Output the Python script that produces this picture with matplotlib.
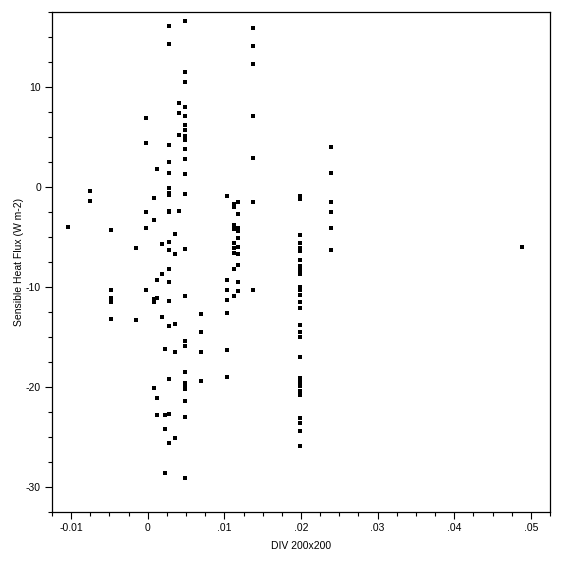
import matplotlib
matplotlib.use("Agg")
import matplotlib.pyplot as plt
from matplotlib.ticker import MultipleLocator

# DIV 200x200 columns and the sensible heat flux values
div_cols = [-0.0104, -0.0076, -0.0048, -0.0016, -0.0002, 0.0008, 0.0012, 0.0018,
            0.0023, 0.0028, 0.0036, 0.0041, 0.0049, 0.0069, 0.0104, 0.0112,
            0.0118, 0.0137, 0.0199, 0.0239, 0.0488]
flux_cols = [
    [-4.0],
    [-0.4, -1.4],
    [-4.3, -10.3, -11.1, -11.5, -13.2],
    [-6.1, -13.3],
    [6.9, 4.4, -2.5, -4.1, -10.3],
    [-1.1, -3.3, -11.2, -11.5, -20.1],
    [1.8, -9.3, -11.1, -21.1, -22.8],
    [-5.7, -8.7, -13.0],
    [-16.2, -22.8, -24.2, -28.6],
    [16.1, 14.3, 4.2, 2.5, 1.4, -0.1, -0.6, -0.8, -2.4, -2.5, -5.5, -6.3,
     -8.2, -9.5, -11.4, -13.9, -19.2, -22.7, -25.6],
    [-4.7, -6.7, -13.7, -16.5, -25.1],
    [8.4, 7.4, 5.2, -2.4],
    [16.6, 11.5, 10.5, 8.0, 7.1, 6.2, 5.7, 5.1, 4.7, 3.8, 2.8, 1.3, -0.7,
     -6.2, -10.9, -15.4, -15.9, -18.5, -19.6, -19.8, -20.2, -21.4, -23.0, -29.1],
    [-12.7, -14.5, -16.5, -19.4],
    [-0.9, -9.3, -10.3, -11.3, -12.6, -16.3, -19.0],
    [-1.7, -2.0, -3.8, -4.2, -5.6, -6.1, -6.6, -8.2, -10.9],
    [-1.5, -2.7, -4.1, -4.4, -5.1, -6.0, -6.7, -7.8, -9.5, -10.4],
    [15.9, 14.1, 12.3, 7.1, 2.9, -1.5, -10.3],
    [-0.9, -1.2, -4.8, -5.6, -6.1, -6.4, -7.3, -7.9, -8.1, -8.4, -8.7, -10.0,
     -10.3, -10.8, -11.5, -12.1, -13.8, -14.5, -15.0, -17.0, -19.1, -19.4,
     -19.6, -19.9, -20.4, -20.6, -20.8, -23.1, -23.6, -24.4, -25.9],
    [4.0, 1.4, -1.5, -2.5, -4.1, -6.3],
    [-6.0],
]

x_ticks = [-0.01, 0, 0.01, 0.02, 0.03, 0.04, 0.05]
x_tick_labels = ["-0.01", "0", ".01", ".02", ".03", ".04", ".05"]
y_ticks = [10, 0, -10, -20, -30]
y_tick_labels = ["10", "0", "-10", "-20", "-30"]

xs, ys = [], []
for x, col in zip(div_cols, flux_cols):
    xs.extend([x] * len(col))
    ys.extend(col)

plt.rcParams["font.family"] = ["Liberation Sans", "DejaVu Sans"]

fig = plt.figure(figsize=(5.64, 5.63), dpi=100)
ax = fig.add_axes([52 / 564, 1 - 512 / 563, 498 / 564, 500 / 563])

ax.scatter(xs, ys, marker="s", s=5, c="black", linewidths=0)

ax.set_xlim(-0.0125, 0.0525)
ax.set_ylim(-32.5, 17.5)

ax.set_xticks(x_ticks)
ax.set_xticklabels(x_tick_labels)
ax.set_yticks(y_ticks)
ax.set_yticklabels(y_tick_labels)
ax.xaxis.set_minor_locator(MultipleLocator(0.0025))
ax.yaxis.set_minor_locator(MultipleLocator(2.5))

ax.tick_params(which="major", direction="out", length=5, width=0.8,
               labelsize=7.5, pad=3, top=False, right=False)
ax.tick_params(which="minor", direction="out", length=3, width=0.8,
               top=False, right=False)

for sp in ax.spines.values():
    sp.set_linewidth(0.9)

ax.set_xlabel("DIV 200x200", fontsize=7.5, labelpad=6)
ax.set_ylabel("Sensible Heat Flux (W m-2)", fontsize=7.5, labelpad=1)

fig.savefig("out.png", dpi=100)
